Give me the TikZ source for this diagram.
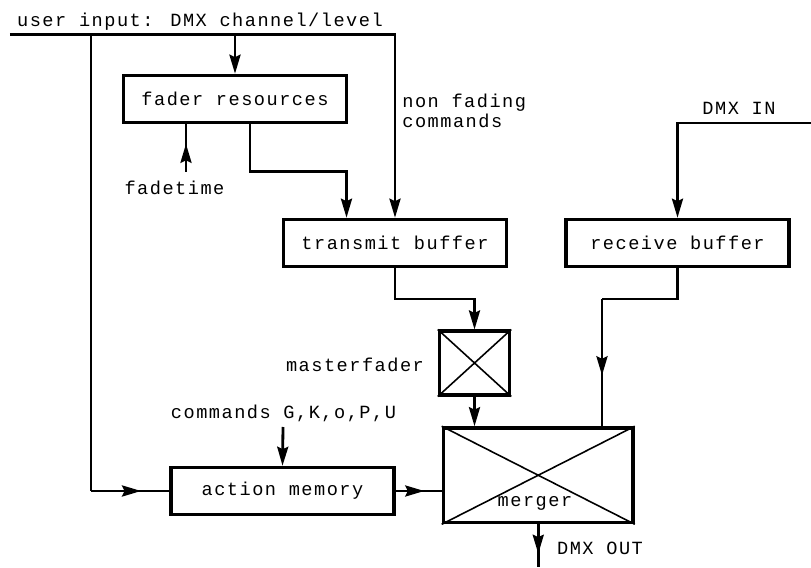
\documentclass[tikz,border=0pt]{standalone}
\usepackage{fontspec}
\newfontfamily\techfont{Liberation Mono}[LetterSpace=8]
\usetikzlibrary{arrows.meta, decorations.markings, positioning}
\tikzstyle{bloc} = [draw,line width=2pt,minimum width=4.46cm,minimum height=0.94cm,inner sep=0pt]
\tikzstyle{croix} = [draw,line width=2pt,inner sep=0pt]
\tikzstyle{diag} = [line width=0.9pt]
\tikzstyle{texte} = [inner sep=0pt]
\tikzstyle{ligne} = [line width=1.6pt]
\tikzstyle{fleche} = [-{Stealth[length=3.8mm,width=2.2mm,inset=0.5mm]},line width=1.6pt]
\tikzset{flechemid/.style={line width=1.6pt,decoration={markings,
      mark=at position #1 with {\arrow{Stealth[length=3.8mm,width=2.2mm,inset=0.5mm]}}},
    postaction={decorate}}}

\begin{document}
\begin{tikzpicture}[font=\techfont\fontsize{10.6pt}{11pt}\selectfont]
	\useasboundingbox (0,0) rectangle (16.22,11.34);

	% blocs
	\node[bloc] (FR) at (4.7,9.36) {fader resources};
	\node[bloc] (TB) at (7.9,6.48) {transmit buffer};
	\node[bloc] (RB) at (13.55,6.48) {receive buffer};
	\node[bloc] (AM) at (5.65,1.52) {action memory};

	\node[croix,minimum width=1.4cm,minimum height=1.27cm] (MF) at (9.49,4.08) {};
	\draw[diag] (MF.north west) -- (MF.south east) (MF.north east) -- (MF.south west);

	\node[croix,minimum width=3.79cm,minimum height=1.89cm] (MG) at (10.765,1.835) {};
	\draw[diag] (MG.north west) -- (MG.south east) (MG.north east) -- (MG.south west);
	\node[texte] (ML) at (10.7,1.28) {merger};

	% textes
	\node[texte] (UI) at (4.0,10.91) {user input: DMX channel/level};
	\node[texte,anchor=west,align=left] (NF) at (8.04,9.12) {non fading\\commands};
	\node[texte] (FT) at (3.49,7.59) {fadetime};
	\node[texte] (DI) at (14.78,9.17) {DMX IN};
	\node[texte] (MT) at (7.1,4.04) {masterfader};
	\node[texte] (CM) at (5.67,3.08) {commands G,K,o,P,U};
	\node[texte] (DO) at (12.0,0.38) {DMX OUT};

	% points
	\coordinate (inL) at (0.2,10.65);
	\coordinate (inR) at (7.9,10.65);
	\coordinate (inA) at (1.82,10.65);
	\coordinate (inF) at (4.7,10.65);
	\coordinate (amIn) at (1.82,1.52);
	\coordinate (ftB) at (3.72,7.9);
	\coordinate (frK) at (5.0,7.91);
	\coordinate (tbF) at (6.93,7.91);
	\coordinate (tbK) at (7.9,5.36);
	\coordinate (diR) at (16.22,8.88);
	\coordinate (diK) at (13.55,8.88);
	\coordinate (rbK) at (13.55,5.36);
	\coordinate (rbM) at (12.04,5.36);
	\coordinate (cmT) at (5.66,2.8);
	\coordinate (outB) at (10.765,0);

	% connexions
	\draw[fleche] (inL) -- (inR) -- (TB.north);
	\draw[fleche] (inF) -- (FR.north);
	\draw[ligne] (inA) -- (amIn);
	\draw[flechemid=0.64] (amIn) -- (AM.west);
	\draw[flechemid=0.59] (ftB) -- (ftB |- FR.south);
	\draw[fleche] (frK |- FR.south) -- (frK) -- (tbF) -- (tbF |- TB.north);
	\draw[fleche] (diR) -- (diK) -- (RB.north);
	\draw[fleche] (TB.south) -- (tbK) -| (MF.north);
	\draw[ligne] (RB.south) -- (rbK) -- (rbM);
	\draw[flechemid=0.6] (rbM) -- (rbM |- MG.north);
	\draw[fleche] (MF.south) -- (MF.south |- MG.north);
	\draw[fleche] (cmT) -- (AM.north);
	\draw[flechemid=0.62] (AM.east) -- (AM.east -| MG.west);
	\draw[flechemid=0.69] (MG.south) -- (outB);
\end{tikzpicture}
\end{document}
